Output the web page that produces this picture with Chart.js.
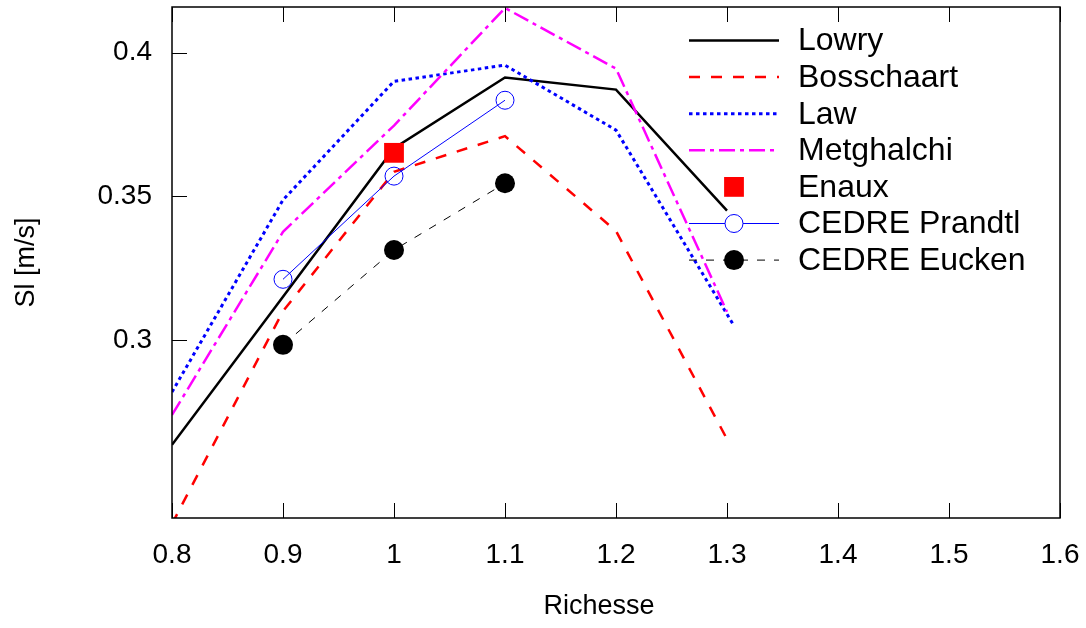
<!DOCTYPE html>
<html>
<head>
<meta charset="utf-8">
<script src="https://cdn.jsdelivr.net/npm/chart.js@4/dist/chart.umd.min.js"></script>
<style>
  html, body { margin: 0; padding: 0; background: #fff; }
</style>
</head>
<body>
<canvas id="chart" width="1086" height="628"></canvas>
<script>
// values
const modelX = [0.8, 0.9, 1.0, 1.1, 1.2, 1.3];
const lawX = [0.8, 0.9, 1.0, 1.1, 1.2, 1.305];
const lowry = [0.2635, 0.315, 0.3667, 0.3913, 0.3871, 0.345];
const bosschaart = [0.236, 0.310, 0.3585, 0.3709, 0.3379, 0.2655];
const law = [0.2819, 0.3487, 0.390, 0.3956, 0.373, 0.3058];
const metghalchi = [0.2739, 0.3376, 0.3746, 0.4155, 0.3944, 0.3098];
const enauxX = [1.0];
const enaux = [0.3651];
const cedreX = [0.9, 1.0, 1.1];
const cedrePrandtl = [0.3211, 0.357, 0.3834];
const cedreEucken = [0.2983, 0.3313, 0.3545];

const seriesLabels = ['Lowry', 'Bosschaart', 'Law', 'Metghalchi', 'Enaux', 'CEDRE Prandtl', 'CEDRE Eucken'];
const xTicks = [0.8, 0.9, 1.0, 1.1, 1.2, 1.3, 1.4, 1.5, 1.6];
const xTickLabels = ['0.8', '0.9', '1', '1.1', '1.2', '1.3', '1.4', '1.5', '1.6'];
const yTicks = [0.3, 0.35, 0.4];
const yTickLabels = ['0.3', '0.35', '0.4'];
const xTitle = 'Richesse';
const yTitle = 'Sl [m/s]';

const FONT = 'Liberation Sans, Arial, sans-serif';
const toPoints = (xs, ys) => xs.map((x, i) => ({ x, y: ys[i] }));

const datasets = [
    { data: toPoints(modelX, lowry), borderColor: '#000', borderWidth: 2.5, pointRadius: 0 },
    { data: toPoints(modelX, bosschaart), borderColor: '#ff0000', borderWidth: 2.5, borderDash: [11, 11], pointRadius: 0 },
    { data: toPoints(lawX, law), borderColor: '#0000ff', borderWidth: 3, borderDash: [3.5, 3.5], pointRadius: 0 },
    { data: toPoints(modelX, metghalchi), borderColor: '#ff00ff', borderWidth: 2.5, borderDash: [16, 5, 4, 5], pointRadius: 0 },
    { data: toPoints(enauxX, enaux), showLine: false, pointStyle: 'rect', pointRadius: 14, borderWidth: 0,
      backgroundColor: '#ff0000', borderColor: '#ff0000' },
    { data: toPoints(cedreX, cedrePrandtl), borderColor: '#0000ff', borderWidth: 1, pointStyle: 'circle',
      pointRadius: 9, pointBorderWidth: 1, pointBackgroundColor: 'rgba(0,0,0,0)', legendFill: '#fff' },
    { data: toPoints(cedreX, cedreEucken), borderColor: '#000', borderWidth: 1, borderDash: [8, 9], pointStyle: 'circle',
      pointRadius: 10, pointBorderWidth: 0, pointBackgroundColor: '#000', backgroundColor: '#000' }
].map((ds, i) => ({ ...ds, label: seriesLabels[i], order: seriesLabels.length - i, fill: false, tension: 0 }));

// box around the plot with inward ticks (bottom, top and left), plus the x label
const framePlugin = {
    id: 'frame',
    afterDatasetsDraw(chart) {
        const { ctx, chartArea: a, scales } = chart;
        ctx.save();
        ctx.strokeStyle = '#000';
        ctx.lineWidth = 1.5;
        ctx.strokeRect(a.left, a.top, a.right - a.left, a.bottom - a.top);
        ctx.lineWidth = 1;
        ctx.beginPath();
        xTicks.forEach(v => {
            const px = Math.round(scales.x.getPixelForValue(v)) + 0.5;
            ctx.moveTo(px, a.bottom); ctx.lineTo(px, a.bottom - 15);
            ctx.moveTo(px, a.top); ctx.lineTo(px, a.top + 15);
        });
        yTicks.forEach(v => {
            const py = Math.round(scales.y.getPixelForValue(v)) + 0.5;
            ctx.moveTo(a.left, py); ctx.lineTo(a.left + 15, py);
        });
        ctx.stroke();
        ctx.fillStyle = '#000';
        ctx.font = '27px ' + FONT;
        ctx.textAlign = 'center';
        ctx.textBaseline = 'middle';
        ctx.fillText(xTitle, 599, 607);
        ctx.restore();
    }
};

// gnuplot-like key in the upper right corner
const keyPlugin = {
    id: 'key',
    afterDraw(chart) {
        const ctx = chart.ctx;
        const x0 = 689, x1 = 779, xm = 734, xt = 798, y0 = 40.5, dy = 36.6;
        ctx.save();
        chart.data.datasets.forEach((ds, i) => {
            const y = y0 + i * dy;
            if (ds.showLine !== false) {
                ctx.strokeStyle = ds.borderColor;
                ctx.lineWidth = ds.borderWidth;
                ctx.setLineDash(ds.borderDash || []);
                ctx.beginPath();
                ctx.moveTo(x0, y); ctx.lineTo(x1, y);
                ctx.stroke();
                ctx.setLineDash([]);
            }
            if (ds.pointRadius > 0) {
                ctx.fillStyle = ds.legendFill || ds.pointBackgroundColor || ds.backgroundColor;
                ctx.strokeStyle = ds.borderColor;
                ctx.lineWidth = ds.pointBorderWidth || 0;
                Chart.helpers.drawPoint(ctx, {
                    pointStyle: ds.pointStyle, rotation: 0, radius: ds.pointRadius,
                    borderWidth: ds.pointBorderWidth || 0
                }, xm, y);
            }
            ctx.fillStyle = '#000';
            ctx.font = '32px ' + FONT;
            ctx.textBaseline = 'middle';
            ctx.textAlign = 'left';
            ctx.fillText(ds.label, xt, y + 1);
        });
        ctx.restore();
    }
};

new Chart(document.getElementById('chart'), {
    type: 'line',
    data: { datasets },
    options: {
        responsive: false,
        animation: false,
        devicePixelRatio: 1,
        layout: { autoPadding: false, padding: { top: 7, right: 26, left: 0, bottom: 0 } },
        plugins: { legend: { display: false }, tooltip: { enabled: false } },
        scales: {
            x: {
                type: 'linear',
                min: 0.8,
                max: 1.6,
                afterBuildTicks: scale => { scale.ticks = xTicks.map(value => ({ value })); },
                afterFit: scale => {
                    scale.height = 110;
                    scale.paddingLeft = 0;
                    scale.paddingRight = 0;
                },
                grid: { display: false, drawTicks: false },
                border: { display: false },
                ticks: {
                    padding: 20,
                    color: '#000',
                    maxRotation: 0,
                    autoSkip: false,
                    font: { family: FONT, size: 28 },
                    callback: (v, i) => xTickLabels[i]
                }
            },
            y: {
                type: 'linear',
                min: 0.23805,
                max: 0.41584,
                afterBuildTicks: scale => { scale.ticks = yTicks.map(value => ({ value })); },
                afterFit: scale => {
                    scale.width = 172;
                    scale.paddingTop = 0;
                    scale.paddingBottom = 0;
                },
                grid: { display: false, drawTicks: false },
                border: { display: false },
                ticks: {
                    padding: 20,
                    color: '#000',
                    autoSkip: false,
                    font: { family: FONT, size: 28 },
                    callback: (v, i) => yTickLabels[i]
                },
                title: {
                    display: true,
                    text: yTitle,
                    color: '#000',
                    font: { family: FONT, size: 27 },
                    padding: { top: 10, bottom: 0 }
                }
            }
        }
    },
    plugins: [framePlugin, keyPlugin]
});
</script>
</body>
</html>
